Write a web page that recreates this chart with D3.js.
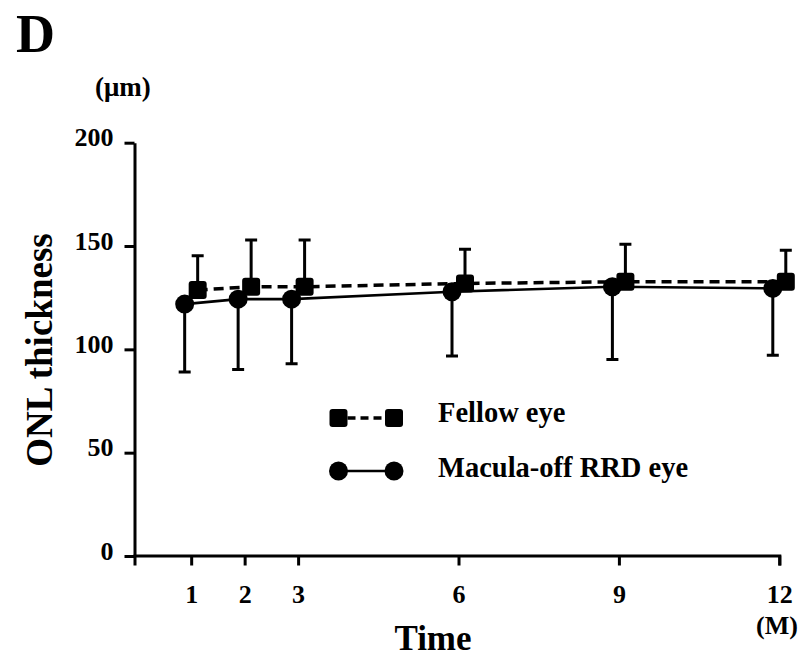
<!DOCTYPE html>
<html>
<head>
<meta charset="utf-8">
<script src="https://cdn.jsdelivr.net/npm/d3@7"></script>
<style>
  html, body { margin: 0; padding: 0; background: #fff; }
  svg { display: block; }
  text { font-family: "Liberation Serif", "Times New Roman", serif; font-weight: bold; fill: #000; }
</style>
</head>
<body>
<svg id="chart" width="802" height="658"></svg>
<script>
// ONL thickness (µm) over follow-up, mean ± SD
const months = [1, 2, 3, 6, 9, 12];
const fellowMean = [128.7, 130.3, 130.3, 131.9, 132.7, 132.7];
const fellowSD   = [16.6, 22.6, 22.6, 16.5, 18.1, 15.3];
const rrdMean    = [121.9, 124.3, 124.3, 127.9, 130.3, 129.5];
const rrdSD      = [32.9, 34.0, 31.3, 31.1, 35.2, 32.3];
const yTicks = [0, 50, 100, 150, 200];
const seriesNames = ["Fellow eye", "Macula-off RRD eye"];

const svg = d3.select("#chart");

const x = d3.scaleLinear().domain([-0.06, 12]).range([134.5, 779.3]);
const y = d3.scaleLinear().domain([0, 200]).range([556, 142.7]);

const AXIS_W = 3;
const TICK_FONT = "26px";

// y axis
const yAxis = svg.append("g")
  .attr("transform", "translate(134.5,0)")
  .call(d3.axisLeft(y).tickValues(yTicks).tickSize(10).tickSizeOuter(0).tickPadding(11));
yAxis.selectAll("path, line").attr("stroke", "#000").attr("stroke-width", AXIS_W);
yAxis.selectAll("text")
  .attr("dy", null).attr("y", 3)
  .style("font-size", TICK_FONT).style("font-family", "Liberation Serif").style("font-weight", "bold");

// x axis
const xAxis = svg.append("g")
  .attr("transform", "translate(0,555.5)")
  .call(d3.axisBottom(x).tickValues(months).tickSize(10).tickSizeOuter(10));
xAxis.select(".domain").attr("stroke", "#000").attr("stroke-width", AXIS_W).attr("fill", "none");
xAxis.selectAll("line").attr("stroke", "#000").attr("stroke-width", AXIS_W);
xAxis.selectAll("text")
  .attr("dy", null).attr("y", 47.5)
  .style("font-size", TICK_FONT).style("font-family", "Liberation Serif").style("font-weight", "bold");

// offsets so the two groups don't overlap at each time point
const dodgeRRD = -6.5, dodgeFellow = 6.5;

const rrd = months.map((m, i) => ({ m, mean: rrdMean[i], sd: rrdSD[i] }));
const fellow = months.map((m, i) => ({ m, mean: fellowMean[i], sd: fellowSD[i] }));

const plot = svg.append("g");
const CAP = 6;

// error bars: RRD eye downward, fellow eye upward
plot.selectAll(".err-rrd").data(rrd).enter().append("path")
  .attr("d", d => {
    const cx = x(d.m) + dodgeRRD, y0 = y(d.mean), y1 = y(d.mean - d.sd);
    return `M${cx},${y0}V${y1}M${cx - CAP},${y1}H${cx + CAP}`;
  })
  .attr("stroke", "#000").attr("stroke-width", 3).attr("fill", "none");

plot.selectAll(".err-fel").data(fellow).enter().append("path")
  .attr("d", d => {
    const cx = x(d.m) + dodgeFellow, y0 = y(d.mean), y1 = y(d.mean + d.sd);
    return `M${cx},${y0}V${y1}M${cx - CAP},${y1}H${cx + CAP}`;
  })
  .attr("stroke", "#000").attr("stroke-width", 3).attr("fill", "none");

// connecting lines
const lineRRD = d3.line().x(d => x(d.m) + dodgeRRD).y(d => y(d.mean));
const lineFel = d3.line().x(d => x(d.m) + dodgeFellow).y(d => y(d.mean));

plot.append("path").datum(rrd).attr("d", lineRRD)
  .attr("stroke", "#000").attr("stroke-width", 2.6).attr("fill", "none");
plot.append("path").datum(fellow).attr("d", lineFel)
  .attr("stroke", "#000").attr("stroke-width", 3.5).attr("fill", "none")
  .attr("stroke-dasharray", "10,6");

// markers
const R = 9.5, SQ = 18;
plot.selectAll(".pt-rrd").data(rrd).enter().append("circle")
  .attr("cx", d => x(d.m) + dodgeRRD).attr("cy", d => y(d.mean)).attr("r", R)
  .attr("fill", "#000");
plot.selectAll(".pt-fel").data(fellow).enter().append("rect")
  .attr("x", d => x(d.m) + dodgeFellow - SQ / 2).attr("y", d => y(d.mean) - SQ / 2)
  .attr("width", SQ).attr("height", SQ).attr("rx", 3)
  .attr("fill", "#000");

// legend
const leg = svg.append("g");
const lx0 = 338.5, lx1 = 394;
leg.append("line").attr("x1", lx0).attr("x2", lx1).attr("y1", 418).attr("y2", 418)
  .attr("stroke", "#000").attr("stroke-width", 3.5).attr("stroke-dasharray", "8,5")
  .attr("stroke-dashoffset", -9);
[lx0, lx1].forEach(cx => leg.append("rect")
  .attr("x", cx - SQ / 2).attr("y", 418 - SQ / 2).attr("width", SQ).attr("height", SQ)
  .attr("rx", 3).attr("fill", "#000"));
leg.append("line").attr("x1", lx0).attr("x2", lx1).attr("y1", 471).attr("y2", 471)
  .attr("stroke", "#000").attr("stroke-width", 2.6);
[lx0, lx1].forEach(cx => leg.append("circle")
  .attr("cx", cx).attr("cy", 471).attr("r", R).attr("fill", "#000"));
leg.append("text").attr("x", 438).attr("y", 422).style("font-size", "28.5px").text(seriesNames[0]);
leg.append("text").attr("x", 438).attr("y", 477).style("font-size", "28.5px").text(seriesNames[1]);

// titles and units
svg.append("text").attr("x", 16).attr("y", 52).style("font-size", "54px").text("D");
svg.append("text").attr("x", 95).attr("y", 96).style("font-size", "27px").text("(μm)");
svg.append("text").attr("transform", "translate(52,350) rotate(-90)")
  .attr("text-anchor", "middle").style("font-size", "37px").text("ONL thickness");
svg.append("text").attr("x", 433).attr("y", 650).attr("text-anchor", "middle")
  .style("font-size", "35px").text("Time");
svg.append("text").attr("x", 777).attr("y", 634).attr("text-anchor", "middle")
  .style("font-size", "26px").text("(M)");
</script>
</body>
</html>
